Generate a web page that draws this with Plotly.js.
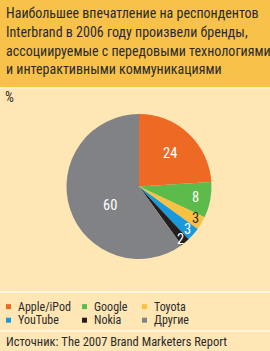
<!DOCTYPE html>
<html>
<head>
<meta charset="utf-8">
<script src="https://cdn.plot.ly/plotly-3.0.1.min.js"></script>
<style>
html,body{margin:0;padding:0;background:#FFE6B5;}
#chart{width:270px;height:351px;}
</style>
</head>
<body>
<div id="chart"></div>
<script>
// ---- data ----
const labels = ['Apple/iPod', 'Google', 'Toyota', 'YouTube', 'Nokia', 'Другие'];
const values = [24, 8, 3, 3, 2, 60];
const colors = ['#EE6A24', '#5CBB4A', '#F9C144', '#1899DC', '#231F20', '#808285'];
const textColors = ['#ffffff', '#ffffff', '#2a2a2a', '#ffffff', '#ffffff', '#ffffff'];
const titleLines = [
  'Наибольшее впечатление на респондентов',
  'Interbrand в 2006 году произвели бренды,',
  'ассоциируемые с передовыми технологиями',
  'и интерактивными коммуникациями'
];
const unitLabel = '%';
const sourceText = 'Источник: The 2007 Brand Marketers Report';

// ---- layout helpers ----
const W = 270, H = 351;
const FONT = '"Roboto Condensed", Roboto, sans-serif';
const px = x => x / W;
const py = y => 1 - y / H;

const dom = {x: [66 / W, 212 / W], y: [py(259), py(114)]};
const cx = (dom.x[0] + dom.x[1]) / 2 * W;
const cy = (1 - (dom.y[0] + dom.y[1]) / 2) * H;
const R = Math.min((dom.x[1] - dom.x[0]) * W, (dom.y[1] - dom.y[0]) * H) / 2;

// label radius fraction and small angle tweak (style)
const labelRadius = [0.63, 0.8, 0.9, 0.9, 0.93, 0.47];
const labelAngleShift = [0, 0, 1, 0, -2, 15];

const total = values.reduce((a, b) => a + b, 0);
const annotations = [];
let cum = 0;
values.forEach((v, i) => {
  const mid = (cum + v / 2) / total;
  cum += v;
  const th = (90 - mid * 360 + labelAngleShift[i]) * Math.PI / 180;
  const x = cx + labelRadius[i] * R * Math.cos(th);
  const y = cy - labelRadius[i] * R * Math.sin(th);
  annotations.push({
    xref: 'paper', yref: 'paper', x: px(x), y: py(y),
    text: String(v), showarrow: false, xanchor: 'center', yanchor: 'middle',
    font: {family: FONT, size: 14.5, color: textColors[i]}
  });
});

// title lines
const titleMid = [13.3, 32, 50.6, 69.2];
titleLines.forEach((t, i) => {
  annotations.push({
    xref: 'paper', yref: 'paper', x: px(4), y: py(titleMid[i]), xanchor: 'left', yanchor: 'middle',
    align: 'left', showarrow: false, text: t,
    font: {family: FONT, size: 14, color: '#2b2b2b'}
  });
});
// unit
annotations.push({
  xref: 'paper', yref: 'paper', x: px(3), y: py(97), xanchor: 'left', yanchor: 'middle',
  showarrow: false, text: unitLabel, font: {family: FONT, size: 14, color: '#2b2b2b'}
});
// source
annotations.push({
  xref: 'paper', yref: 'paper', x: px(4), y: py(341.5), xanchor: 'left', yanchor: 'middle',
  showarrow: false, text: sourceText, font: {family: FONT, size: 12.5, color: '#2b2b2b'}
});

// legend (custom 3-column)
const legCols = [6, 82, 142];
const legRows = [306.6, 320.2];
const shapes = [
  {type: 'rect', xref: 'paper', yref: 'paper', x0: 0, x1: 1, y0: py(87), y1: 1,
   fillcolor: '#F8C24A', line: {width: 0}, layer: 'below'},
  {type: 'line', xref: 'paper', yref: 'paper', x0: 0, x1: 1, y0: py(88), y1: py(88),
   line: {color: '#FFF1D6', width: 1.5}},
  {type: 'line', xref: 'paper', yref: 'paper', x0: 0, x1: 1, y0: py(292), y1: py(292),
   line: {color: '#FFF4DE', width: 2}},
  {type: 'line', xref: 'paper', yref: 'paper', x0: 0, x1: 1, y0: py(331), y1: py(331),
   line: {color: '#FFF4DE', width: 2}}
];
labels.forEach((lab, i) => {
  const c = i % 3, r = Math.floor(i / 3);
  const mx = legCols[c], my = legRows[r];
  shapes.push({type: 'rect', xref: 'paper', yref: 'paper',
    x0: px(mx), x1: px(mx + 5), y0: py(my + 2.5), y1: py(my - 2.5),
    fillcolor: colors[i], line: {width: 0}});
  annotations.push({xref: 'paper', yref: 'paper', x: px(mx + 10), y: py(my),
    xanchor: 'left', yanchor: 'middle', showarrow: false, text: lab,
    font: {family: FONT, size: 12, color: '#2b2b2b'}});
});

const trace = {
  type: 'pie', labels: labels, values: values, sort: false, direction: 'clockwise',
  rotation: 0, textinfo: 'none', hoverinfo: 'label+value',
  marker: {colors: colors, line: {width: 0}},
  domain: dom, showlegend: false
};

Plotly.newPlot('chart', [trace], {
  width: W, height: H, margin: {l: 0, r: 0, t: 0, b: 0},
  paper_bgcolor: '#FFE6B5', plot_bgcolor: '#FFE6B5',
  showlegend: false, annotations: annotations, shapes: shapes
}, {displayModeBar: false, staticPlot: true});
</script>
</body>
</html>
